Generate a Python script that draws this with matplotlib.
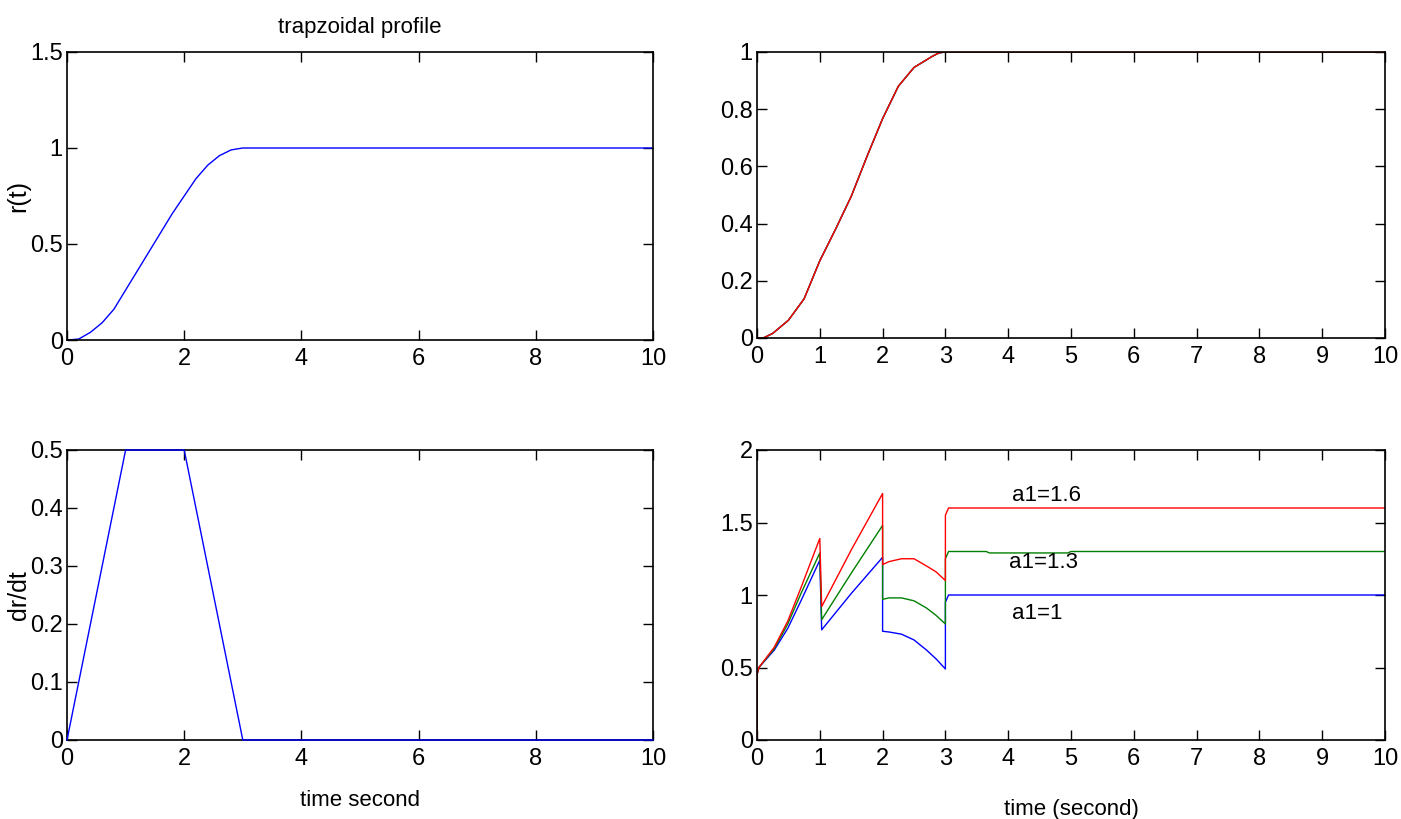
import matplotlib
matplotlib.use("Agg")
import matplotlib.pyplot as plt
import numpy as np

plt.rcParams['font.family'] = ['Liberation Sans Narrow', 'Liberation Sans', 'DejaVu Sans']

# top left: reference position r(t)
t_ref = [0, 0.2, 0.4, 0.6, 0.8, 1.0, 1.2, 1.4, 1.6, 1.8, 2.0, 2.2, 2.4, 2.6, 2.8, 3.0, 10]
r_ref = [0, 0.005, 0.04, 0.09, 0.16, 0.26, 0.36, 0.46, 0.56, 0.66, 0.75, 0.84, 0.91, 0.96, 0.99, 1.0, 1.0]

# bottom left: dr/dt
t_vel = [0, 1, 2, 3, 10]
v_ref = [0, 0.5, 0.5, 0, 0]

# top right: simulated outputs (the three curves overlap)
t_out = [0, 0.1, 0.25, 0.5, 0.75, 1.0, 1.25, 1.5, 1.75, 2.0, 2.25, 2.5, 2.8, 2.9, 3.0, 10]
y_out = [0, 0.0, 0.016, 0.062, 0.137, 0.27, 0.38, 0.495, 0.634, 0.767, 0.88, 0.946, 0.986, 0.997, 1.0, 1.0]

# bottom right: control signal for a1 = 1, 1.3, 1.6
t_u = [0, 0.0, 0.03, 0.275, 0.49, 0.7, 1.0, 1.0, 1.03, 1.5, 2.0, 2.0, 2.1, 2.3, 2.5, 2.7, 2.85, 3.0, 3.0, 3.05, 3.65, 3.7, 4.95, 5.0, 10]
u_a1_10 = [0, 0.45, 0.50, 0.62, 0.77, 0.96, 1.24, 1.24, 0.76, 1.01, 1.26, 0.75, 0.745, 0.73, 0.69, 0.62, 0.56, 0.49, 0.95, 1.0, 1.0, 1.0, 1.0, 1.0, 1.0]
u_a1_13 = [0, 0.45, 0.50, 0.63, 0.80, 1.01, 1.29, 1.29, 0.83, 1.15, 1.48, 0.97, 0.98, 0.98, 0.96, 0.91, 0.86, 0.80, 1.25, 1.30, 1.30, 1.29, 1.29, 1.30, 1.30]
u_a1_16 = [0, 0.45, 0.50, 0.64, 0.82, 1.05, 1.39, 1.39, 0.92, 1.31, 1.70, 1.21, 1.23, 1.25, 1.25, 1.20, 1.16, 1.10, 1.55, 1.60, 1.60, 1.60, 1.60, 1.60, 1.60]
labels_u = ['a1=1', 'a1=1.3', 'a1=1.6']
label_pos = [(4.06, 0.87), (4.02, 1.225), (4.06, 1.685)]

fs = 17
fig = plt.figure(figsize=(14.01, 8.19), dpi=100)


def style(ax, xt, yt, xlim, ylim):
    ax.set_xlim(*xlim)
    ax.set_ylim(*ylim)
    ax.set_xticks(xt)
    ax.set_yticks(yt)
    ax.set_xticklabels([('%g' % v) for v in xt], fontsize=fs)
    ax.set_yticklabels([('%g' % v) for v in yt], fontsize=fs)
    ax.tick_params(direction='in', top=True, right=True, length=7, width=1)
    ax.tick_params(axis='x', pad=6)
    ax.tick_params(axis='y', pad=3)
    for s in ax.spines.values():
        s.set_linewidth(1.2)


ax1 = fig.add_axes([67 / 1401, 1 - 340 / 819, 586 / 1401, 288 / 819])
ax1.plot(t_ref, r_ref, color='blue', lw=1)
style(ax1, [0, 2, 4, 6, 8, 10], [0, 0.5, 1, 1.5], (0, 10), (0, 1.5))
ax1.set_title('trapzoidal profile', fontsize=16, pad=14)
ax1.set_ylabel('r(t)', fontsize=18)
ax1.yaxis.set_label_coords(-0.062, 0.5)

ax3 = fig.add_axes([67 / 1401, 1 - 740 / 819, 586 / 1401, 290 / 819])
ax3.plot(t_vel, v_ref, color='blue', lw=1, clip_on=False, zorder=3)
style(ax3, [0, 2, 4, 6, 8, 10], [0, 0.1, 0.2, 0.3, 0.4, 0.5], (0, 10), (0, 0.5))
ax3.set_ylabel('dr/dt', fontsize=18)
ax3.yaxis.set_label_coords(-0.062, 0.5)
ax3.set_xlabel('time second', fontsize=16, labelpad=14)

ax2 = fig.add_axes([757 / 1401, 1 - 338 / 819, 628 / 1401, 286 / 819])
for c in ['blue', 'green', 'red']:
    ax2.plot(t_out, y_out, color=c, lw=1)
style(ax2, list(range(11)), [0, 0.2, 0.4, 0.6, 0.8, 1], (0, 10), (0, 1))

ax4 = fig.add_axes([757 / 1401, 1 - 740 / 819, 628 / 1401, 290 / 819])
for u, c in zip([u_a1_10, u_a1_13, u_a1_16], ['blue', 'green', 'red']):
    ax4.plot(t_u, u, color=c, lw=1)
for lab, (x, y) in zip(labels_u, label_pos):
    ax4.text(x, y, lab, fontsize=16, va='center', ha='left')
style(ax4, list(range(11)), [0, 0.5, 1, 1.5, 2], (0, 10), (0, 2))
ax4.set_xlabel('time (second)', fontsize=16, labelpad=21)

fig.savefig('out.png', dpi=100)
